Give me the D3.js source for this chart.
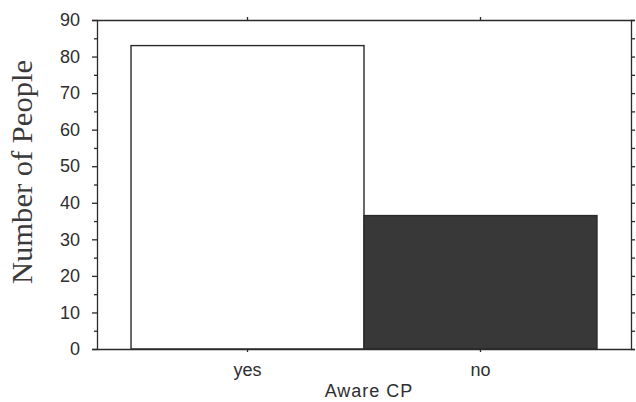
<!DOCTYPE html>
<html>
<head>
<meta charset="utf-8">
<script src="https://cdn.jsdelivr.net/npm/d3@7"></script>
<style>
  html, body { margin: 0; padding: 0; background: #fff; }
  svg { display: block; }
  .axis path, .axis line { stroke: #2a2a2a; stroke-width: 1.3; }
  .axis text { font-family: "Liberation Sans", Arial, sans-serif; font-size: 18px; fill: #2e2e2e; }
</style>
</head>
<body>
<svg id="chart" width="636" height="402"></svg>
<script>
// Survey responses: awareness of CP
const categories = ["yes", "no"];
const counts = [83, 36.5];
const yTicks = [0, 10, 20, 30, 40, 50, 60, 70, 80, 90];
const yMinorTicks = [5, 15, 25, 35, 45, 55, 65, 75, 85];
const barFills = ["#ffffff", "#383838"];

const W = 636, H = 402;
const margin = { top: 20, right: 5, bottom: 53, left: 97 };
const svg = d3.select("#chart");

const x = d3.scaleBand()
  .domain(categories)
  .range([margin.left, W - margin.right])
  .paddingInner(0)
  .paddingOuter(0.146);

const y = d3.scaleLinear()
  .domain([0, 90])
  .range([H - margin.bottom, margin.top]);

// bars
svg.append("g")
  .selectAll("rect")
  .data(categories)
  .join("rect")
  .attr("x", d => x(d))
  .attr("y", (d, i) => y(counts[i]))
  .attr("width", x.bandwidth())
  .attr("height", (d, i) => y(0) - y(counts[i]))
  .attr("fill", (d, i) => barFills[i])
  .attr("stroke", "#2a2a2a")
  .attr("stroke-width", 1.4);

// left axis: labelled major ticks, short minor ticks between
svg.append("g")
  .attr("class", "axis")
  .attr("transform", `translate(${margin.left},0)`)
  .call(d3.axisLeft(y).tickValues(yTicks).tickSize(5).tickPadding(12).tickFormat(d3.format("d")));
svg.append("g")
  .attr("class", "axis")
  .attr("transform", `translate(${margin.left},0)`)
  .call(d3.axisLeft(y).tickValues(yMinorTicks).tickSize(3).tickFormat(""))
  .call(g => g.select(".domain").remove());

// right axis: unlabelled ticks every 5
svg.append("g")
  .attr("class", "axis")
  .attr("transform", `translate(${W - margin.right},0)`)
  .call(d3.axisRight(y).tickValues(yTicks.concat(yMinorTicks)).tickSize(4).tickFormat(""));

// bottom axis with category labels
svg.append("g")
  .attr("class", "axis")
  .attr("transform", `translate(0,${H - margin.bottom})`)
  .call(d3.axisBottom(x).tickSize(3).tickPadding(11).tickSizeOuter(0));

// top axis: ticks only
svg.append("g")
  .attr("class", "axis")
  .attr("transform", `translate(0,${margin.top})`)
  .call(d3.axisTop(x).tickSize(3).tickSizeOuter(0).tickFormat(""));

svg.selectAll(".axis path.domain").attr("fill", "none");

// axis titles
svg.append("text")
  .attr("x", 369)
  .attr("y", 397)
  .attr("text-anchor", "middle")
  .attr("font-family", "Liberation Sans, Arial, sans-serif")
  .attr("font-size", 18)
  .attr("letter-spacing", 1)
  .attr("fill", "#2e2e2e")
  .text("Aware CP");

svg.append("text")
  .attr("transform", "translate(32,172) rotate(-90)")
  .attr("text-anchor", "middle")
  .attr("font-family", "Liberation Serif, Times New Roman, serif")
  .attr("font-size", 29)
  .attr("textLength", 224)
  .attr("lengthAdjust", "spacingAndGlyphs")
  .attr("fill", "#3a3a3a")
  .text("Number of People");
</script>
</body>
</html>
